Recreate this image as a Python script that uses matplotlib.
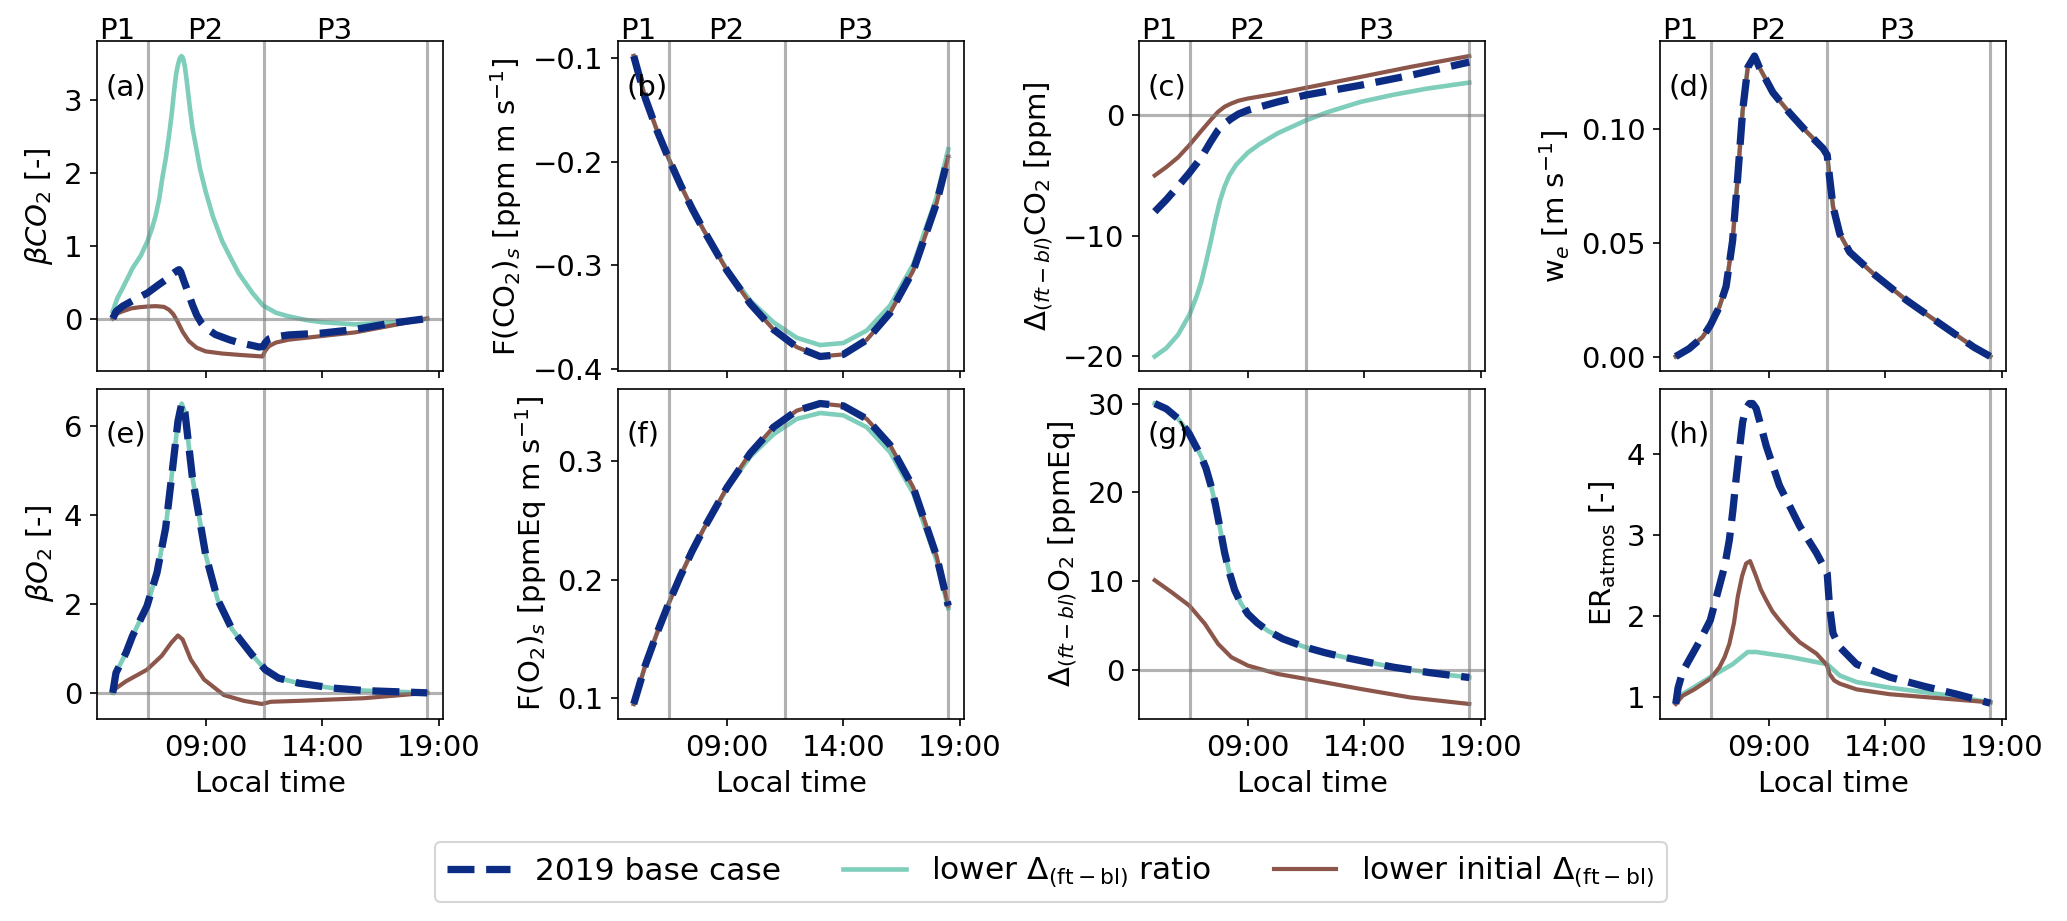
import matplotlib
matplotlib.use("Agg")
import matplotlib.pyplot as plt
import matplotlib.transforms as mtransforms

# ---------------- data (hours local time) ----------------
# (a) beta CO2
t_a_base = [5.0, 5.15, 5.43, 6.0, 6.49, 7.0, 7.27, 7.6, 7.78, 7.85, 7.92, 8.05, 8.27, 8.42, 8.6, 8.8, 9.0, 9.41, 10.0, 10.41, 11.0, 11.27, 11.45, 11.55, 11.7, 12.0, 12.55, 13.97, 15.4, 16.82, 18.5]
a_base = [0.0, 0.10, 0.17, 0.27, 0.35, 0.47, 0.53, 0.62, 0.66, 0.67, 0.64, 0.52, 0.33, 0.19, 0.05, -0.06, -0.13, -0.22, -0.29, -0.33, -0.37, -0.39, -0.385, -0.33, -0.28, -0.25, -0.225, -0.20, -0.15, -0.07, 0.0]
t_a_ratio = [5.0, 5.2, 5.43, 5.65, 5.85, 6.2, 6.49, 6.7, 6.85, 7.0, 7.13, 7.28, 7.42, 7.53, 7.63, 7.72, 7.8, 7.88, 7.95, 8.02, 8.1, 8.18, 8.3, 8.42, 8.56, 8.75, 8.99, 9.3, 9.7, 10.0, 10.41, 11.0, 11.45, 12.0, 12.55, 13.3, 13.97, 15.4, 17.1, 18.0, 18.5]
a_ratio = [0.10, 0.28, 0.42, 0.56, 0.69, 0.86, 1.06, 1.25, 1.42, 1.65, 1.93, 2.20, 2.52, 2.80, 3.11, 3.35, 3.48, 3.57, 3.60, 3.57, 3.45, 3.25, 2.92, 2.62, 2.38, 2.05, 1.74, 1.40, 1.06, 0.87, 0.62, 0.35, 0.18, 0.08, 0.03, -0.02, -0.05, -0.08, -0.05, -0.02, 0.0]
t_a_init = [5.0, 5.2, 5.43, 5.8, 6.14, 6.5, 6.85, 7.2, 7.42, 7.6, 7.78, 8.0, 8.27, 8.6, 8.99, 9.7, 10.5, 11.43, 11.55, 11.7, 12.0, 12.55, 13.97, 15.4, 16.82, 18.5]
a_init = [0.0, 0.07, 0.10, 0.14, 0.155, 0.165, 0.17, 0.16, 0.12, 0.06, -0.04, -0.18, -0.31, -0.40, -0.45, -0.48, -0.50, -0.52, -0.44, -0.38, -0.33, -0.29, -0.24, -0.19, -0.105, 0.0]

# (b) F(CO2)s
t_b = [5.0, 5.5, 6.0, 6.5, 7.0, 7.5, 8.0, 9.0, 10.0, 11.0, 12.0, 13.0, 14.0, 15.0, 16.0, 17.0, 18.0, 18.5]
b_base = [-0.098, -0.139, -0.170, -0.197, -0.222, -0.245, -0.266, -0.305, -0.337, -0.362, -0.379, -0.388, -0.386, -0.372, -0.346, -0.305, -0.240, -0.195]
b_ratio = [-0.098, -0.139, -0.170, -0.197, -0.222, -0.245, -0.266, -0.304, -0.334, -0.355, -0.370, -0.377, -0.375, -0.363, -0.339, -0.299, -0.234, -0.188]
b_init = [-0.098, -0.139, -0.170, -0.197, -0.222, -0.245, -0.266, -0.305, -0.337, -0.362, -0.379, -0.388, -0.386, -0.372, -0.346, -0.305, -0.240, -0.195]

# (c) Delta CO2
t_c = [5.0, 5.5, 6.0, 6.48, 7.0, 7.4, 7.72, 8.0, 8.29, 8.6, 9.0, 10.28, 11.47, 13.84, 15.98, 18.5]
c_base = [-8.0, -7.0, -5.9, -4.8, -3.5, -2.2, -1.24, -0.7, -0.28, 0.1, 0.41, 1.1, 1.66, 2.48, 3.3, 4.4]
c_init = [-5.0, -4.3, -3.5, -2.5, -1.3, -0.4, 0.28, 0.7, 0.97, 1.2, 1.38, 1.8, 2.26, 3.17, 4.0, 4.9]
t_c_ratio = [5.0, 5.5, 6.0, 6.5, 6.8, 7.0, 7.2, 7.4, 7.6, 7.8, 8.0, 8.2, 8.5, 9.0, 9.5, 10.28, 11.47, 12.42, 13.84, 15.27, 16.69, 18.5]
c_ratio = [-20.0, -19.3, -18.2, -16.5, -15.0, -13.8, -12.2, -10.5, -8.7, -7.1, -5.9, -5.0, -4.1, -3.1, -2.4, -1.5, -0.45, 0.25, 1.1, 1.7, 2.2, 2.7]

# (d) entrainment velocity
t_d = [5.0, 5.57, 6.15, 6.48, 6.87, 7.16, 7.44, 7.66, 7.87, 8.09, 8.38, 8.59, 9.17, 9.89, 10.6, 11.32, 11.5, 11.6, 11.75, 12.04, 12.47, 13.48, 14.91, 16.35, 17.79, 18.5]
d_base = [0.0003, 0.0037, 0.0088, 0.0139, 0.022, 0.031, 0.051, 0.079, 0.108, 0.127, 0.132, 0.127, 0.116, 0.107, 0.099, 0.0915, 0.0886, 0.079, 0.066, 0.054, 0.046, 0.0366, 0.0249, 0.0146, 0.0044, 0.0003]

# (e) beta O2
t_e = [5.0, 5.14, 5.57, 5.85, 6.47, 6.9, 7.27, 7.56, 7.8, 7.96, 8.1, 8.42, 8.99, 9.5, 10.12, 10.97, 11.55, 12.12, 12.97, 14.39, 15.82, 18.5]
e_base = [0.0, 0.45, 0.9, 1.28, 1.95, 2.7, 3.7, 5.0, 6.1, 6.5, 6.3, 4.84, 3.1, 2.1, 1.43, 0.86, 0.52, 0.33, 0.22, 0.11, 0.05, 0.0]
t_e_init = [5.0, 5.57, 6.47, 7.1, 7.52, 7.8, 8.0, 8.35, 8.92, 9.77, 10.63, 11.4, 11.8, 12.97, 15.8, 18.5]
e_init = [0.05, 0.26, 0.52, 0.83, 1.13, 1.29, 1.2, 0.75, 0.3, -0.05, -0.18, -0.25, -0.2, -0.18, -0.12, 0.0]

# (f) F(O2)s
t_f = [5.0, 5.5, 6.0, 6.5, 7.0, 7.5, 8.0, 9.0, 10.0, 11.0, 12.0, 13.0, 14.0, 15.0, 16.0, 17.0, 18.0, 18.5]
f_base = [0.095, 0.128, 0.155, 0.180, 0.203, 0.224, 0.243, 0.278, 0.307, 0.329, 0.343, 0.349, 0.347, 0.336, 0.314, 0.278, 0.220, 0.178]
f_ratio = [0.095, 0.128, 0.155, 0.180, 0.203, 0.224, 0.243, 0.277, 0.304, 0.323, 0.336, 0.341, 0.339, 0.329, 0.308, 0.273, 0.216, 0.176]

# (g) Delta O2
t_g = [5.0, 5.5, 6.0, 6.48, 7.0, 7.2, 7.43, 7.6, 7.8, 8.0, 8.2, 8.43, 8.7, 9.0, 9.4, 9.86, 10.5, 11.47, 12.3, 13.13, 14.2, 15.27, 16.8, 18.5]
g_base = [30.0, 29.4, 28.3, 26.6, 24.0, 22.7, 20.6, 18.7, 16.0, 13.2, 11.0, 9.0, 7.5, 6.3, 5.3, 4.4, 3.5, 2.56, 1.95, 1.43, 0.85, 0.3, -0.3, -0.85]
t_g_init = [5.0, 5.72, 6.48, 7.15, 7.72, 8.29, 9.0, 10.28, 11.47, 13.84, 15.98, 18.5]
g_init = [10.1, 8.76, 7.26, 5.2, 2.93, 1.43, 0.49, -0.45, -1.0, -2.14, -3.1, -3.83]

# (h) ER atmos
t_h = [5.0, 5.1, 5.3, 5.57, 6.0, 6.48, 6.87, 7.1, 7.3, 7.45, 7.59, 7.73, 7.87, 8.0, 8.16, 8.3, 8.45, 8.65, 8.88, 9.45, 10.32, 11.04, 11.5, 11.6, 11.75, 12.04, 12.76, 14.19, 15.63, 17.07, 18.5]
h_base = [0.92, 1.12, 1.32, 1.46, 1.68, 1.95, 2.37, 2.62, 2.94, 3.30, 3.69, 4.05, 4.39, 4.55, 4.62, 4.62, 4.56, 4.35, 4.10, 3.61, 3.11, 2.78, 2.53, 2.12, 1.79, 1.62, 1.41, 1.25, 1.14, 1.04, 0.93]
t_h_ratio = [5.0, 5.29, 6.48, 7.44, 8.09, 8.45, 9.89, 11.5, 12.04, 12.76, 14.19, 16.35, 18.5]
h_ratio = [0.94, 1.04, 1.25, 1.41, 1.56, 1.56, 1.5, 1.41, 1.27, 1.19, 1.12, 1.04, 0.94]
t_h_init = [5.0, 5.29, 5.8, 6.48, 6.87, 7.1, 7.3, 7.5, 7.66, 7.85, 8.02, 8.19, 8.3, 8.45, 8.65, 8.88, 9.15, 9.45, 9.9, 10.32, 11.04, 11.39, 11.5, 11.6, 11.8, 12.04, 12.76, 14.19, 16.35, 18.5]
h_init = [0.92, 1.02, 1.10, 1.23, 1.37, 1.50, 1.66, 1.92, 2.24, 2.50, 2.65, 2.68, 2.60, 2.49, 2.33, 2.20, 2.06, 1.95, 1.80, 1.68, 1.54, 1.43, 1.39, 1.29, 1.21, 1.17, 1.10, 1.04, 0.99, 0.94]

phase_bounds = [6.5, 11.5, 18.5]
phase_labels = ["P1", "P2", "P3"]
phase_label_x = [5.2, 8.95, 14.5]
xtick_vals = [9, 14, 19]
xtick_labels = ["09:00", "14:00", "19:00"]

series_labels = ["2019 base case",
                 r"lower $\Delta_{\mathrm{(ft-bl)}}$ ratio",
                 r"lower initial $\Delta_{\mathrm{(ft-bl)}}$"]
panel_letters = ["(a)", "(b)", "(c)", "(d)", "(e)", "(f)", "(g)", "(h)"]
ylabels = [r"$\beta CO_2$ [-]",
           r"F(CO$_2$)$_s$ [ppm m s$^{-1}$]",
           r"$\Delta_{(ft-bl)}$CO$_2$ [ppm]",
           r"w$_e$ [m s$^{-1}$]",
           r"$\beta O_2$ [-]",
           r"F(O$_2$)$_s$ [ppmEq m s$^{-1}$]",
           r"$\Delta_{(ft-bl)}$O$_2$ [ppmEq]",
           r"ER$_{\mathrm{atmos}}$ [-]"]

C_BASE = "#0c2c84"
C_RATIO = "#7fcdbb"
C_INIT = "#8c564b"

plt.rcParams["font.family"] = ["DejaVu Sans"]
plt.rcParams["font.size"] = 14

fig = plt.figure(figsize=(2067 / 150, 921 / 150), dpi=150)
axes = fig.subplots(2, 4, sharex=True)
fig.subplots_adjust(left=97 / 2067, right=2006 / 2067, top=1 - 41 / 921,
                    bottom=1 - 719 / 921, wspace=0.506, hspace=0.0515)
axs = axes.ravel()

panels = [
    ((t_a_ratio, a_ratio), (t_a_init, a_init), (t_a_base, a_base), True),
    ((t_b, b_ratio), (t_b, b_init), (t_b, b_base), False),
    ((t_c_ratio, c_ratio), (t_c, c_init), (t_c, c_base), True),
    ((t_d, d_base), (t_d, d_base), (t_d, d_base), False),
    ((t_e, e_base), (t_e_init, e_init), (t_e, e_base), True),
    ((t_f, f_ratio), (t_f, f_base), (t_f, f_base), False),
    ((t_g, g_base), (t_g_init, g_init), (t_g, g_base), True),
    ((t_h_ratio, h_ratio), (t_h_init, h_init), (t_h, h_base), False),
]

handles = None
for i, (ax, (r, ini, base, zero)) in enumerate(zip(axs, panels)):
    l2, = ax.plot(r[0], r[1], color=C_RATIO, lw=2.2, zorder=2)
    l3, = ax.plot(ini[0], ini[1], color=C_INIT, lw=2.0, zorder=2)
    l1, = ax.plot(base[0], base[1], color=C_BASE, lw=3.5, ls="--", zorder=3)
    for xb in phase_bounds:
        ax.axvline(xb, color="grey", alpha=0.6, lw=1.5, zorder=2.5)
    if zero:
        ax.axhline(0, color="grey", alpha=0.6, lw=1.5, zorder=2.5)
    ax.set_ylabel(ylabels[i])
    ax.text(0.025, 0.86, panel_letters[i], transform=ax.transAxes,
            ha="left", va="center", fontsize=14)
    if i < 4:
        trans = mtransforms.blended_transform_factory(ax.transData, ax.transAxes)
        for px, pl in zip(phase_label_x, phase_labels):
            ax.text(px, 1.006, pl, transform=trans, ha="center", va="baseline", fontsize=14)
    else:
        ax.set_xlabel("Local time")
    if handles is None:
        handles = [l1, l2, l3]

axs[0].set_xlim(4.325, 19.175)
axs[0].set_xticks(xtick_vals)
for ax in axs[4:]:
    ax.set_xticklabels(xtick_labels)

fig.legend(handles, series_labels, loc="upper center", ncol=3,
           bbox_to_anchor=(1051 / 2067, 1 - 842 / 921), borderaxespad=0,
           fontsize=15)

fig.savefig("out.png", dpi=150)
